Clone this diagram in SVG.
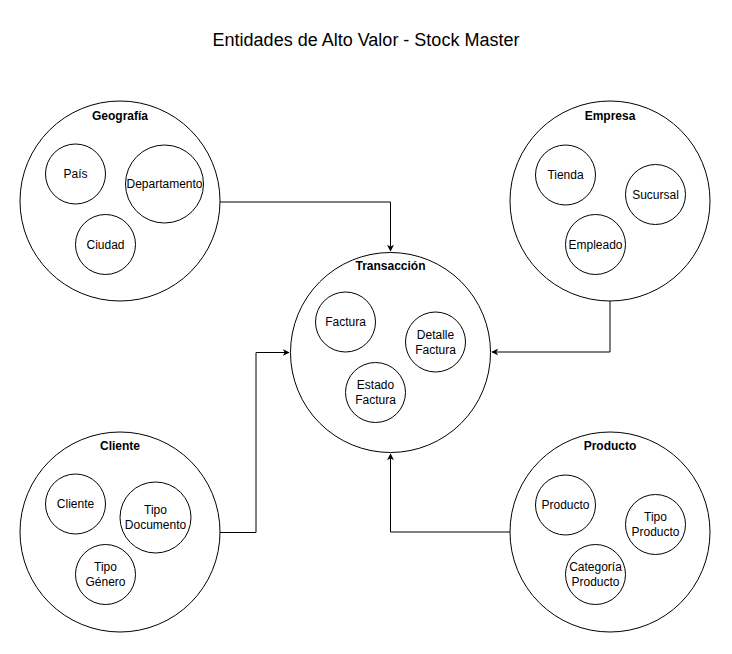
<svg xmlns="http://www.w3.org/2000/svg" width="732" height="654" viewBox="0 0 732 654">
<defs>
<style>
.big{fill:#fff;stroke:#000;stroke-width:1}
.sm{fill:#fff;stroke:#000;stroke-width:1}
.lbl{font-family:"Liberation Sans",Arial,sans-serif;font-size:12px;fill:#000;text-anchor:middle}
.hd{font-family:"Liberation Sans",Arial,sans-serif;font-size:12px;font-weight:bold;fill:#000;text-anchor:middle}
.conn{fill:none;stroke:#000;stroke-width:1}
</style>
<marker id="arr" viewBox="0 0 10 10" refX="9" refY="5" markerWidth="7" markerHeight="7" orient="auto" markerUnits="userSpaceOnUse">
<path d="M0,0 L10,5 L0,10 L3,5 Z" fill="#000"/>
</marker>
</defs>
<rect width="732" height="654" fill="#fff"/>
<text x="366" y="46" font-family="'Liberation Sans',Arial,sans-serif" font-size="18" text-anchor="middle" fill="#000">Entidades de Alto Valor - Stock Master</text>

<g id="connectors">
<path class="conn" d="M220,202 H390.5 V251" marker-end="url(#arr)"/>
<path class="conn" d="M610,301 V352 H492" marker-end="url(#arr)"/>
<path class="conn" d="M220,532.5 H256 V352.5 H289" marker-end="url(#arr)"/>
<path class="conn" d="M510,532 H390.5 V454" marker-end="url(#arr)"/>
</g>

<g id="geografia">
<circle class="big" cx="120" cy="201" r="100"/>
<text class="hd" x="120" y="120">Geografía</text>
<g id="pais"><circle class="sm" cx="75.5" cy="174" r="30"/><text class="lbl" x="75.5" y="178">País</text></g>
<g id="departamento"><circle class="sm" cx="164.5" cy="184" r="39"/><text class="lbl" x="164.5" y="188">Departamento</text></g>
<g id="ciudad"><circle class="sm" cx="105.5" cy="244.5" r="30"/><text class="lbl" x="105.5" y="248.5">Ciudad</text></g>
</g>

<g id="empresa">
<circle class="big" cx="610" cy="201" r="100"/>
<text class="hd" x="610" y="120">Empresa</text>
<g id="tienda"><circle class="sm" cx="565.5" cy="175" r="30"/><text class="lbl" x="565.5" y="179">Tienda</text></g>
<g id="sucursal"><circle class="sm" cx="655.5" cy="194.5" r="30"/><text class="lbl" x="655.5" y="198.5">Sucursal</text></g>
<g id="empleado"><circle class="sm" cx="595.5" cy="244.5" r="30"/><text class="lbl" x="595.5" y="248.5">Empleado</text></g>
</g>

<g id="transaccion">
<circle class="big" cx="390.5" cy="352.5" r="100"/>
<text class="hd" x="390.5" y="270">Transacción</text>
<g id="factura"><circle class="sm" cx="345.5" cy="322" r="30"/><text class="lbl" x="345.5" y="326">Factura</text></g>
<g id="detalle-factura"><circle class="sm" cx="435.5" cy="342" r="30"/><text class="lbl" x="435.5" y="338.5">Detalle</text><text class="lbl" x="435.5" y="353.5">Factura</text></g>
<g id="estado-factura"><circle class="sm" cx="375.5" cy="392.5" r="30"/><text class="lbl" x="375.5" y="389">Estado</text><text class="lbl" x="375.5" y="404">Factura</text></g>
</g>

<g id="cliente">
<circle class="big" cx="120" cy="532" r="100"/>
<text class="hd" x="120" y="450">Cliente</text>
<g id="cliente-item"><circle class="sm" cx="75.5" cy="504" r="30"/><text class="lbl" x="75.5" y="508">Cliente</text></g>
<g id="tipo-documento"><circle class="sm" cx="155.5" cy="517.5" r="35.5"/><text class="lbl" x="155.5" y="514">Tipo</text><text class="lbl" x="155.5" y="529">Documento</text></g>
<g id="tipo-genero"><circle class="sm" cx="105.5" cy="574.5" r="30"/><text class="lbl" x="105.5" y="571">Tipo</text><text class="lbl" x="105.5" y="586">Género</text></g>
</g>

<g id="producto">
<circle class="big" cx="610" cy="532" r="100"/>
<text class="hd" x="610" y="450">Producto</text>
<g id="producto-item"><circle class="sm" cx="565.5" cy="505" r="30"/><text class="lbl" x="565.5" y="509">Producto</text></g>
<g id="tipo-producto"><circle class="sm" cx="655.5" cy="524.5" r="30"/><text class="lbl" x="655.5" y="521">Tipo</text><text class="lbl" x="655.5" y="536">Producto</text></g>
<g id="categoria-producto"><circle class="sm" cx="595.5" cy="574.5" r="30"/><text class="lbl" x="595.5" y="571">Categoría</text><text class="lbl" x="595.5" y="586">Producto</text></g>
</g>
</svg>
